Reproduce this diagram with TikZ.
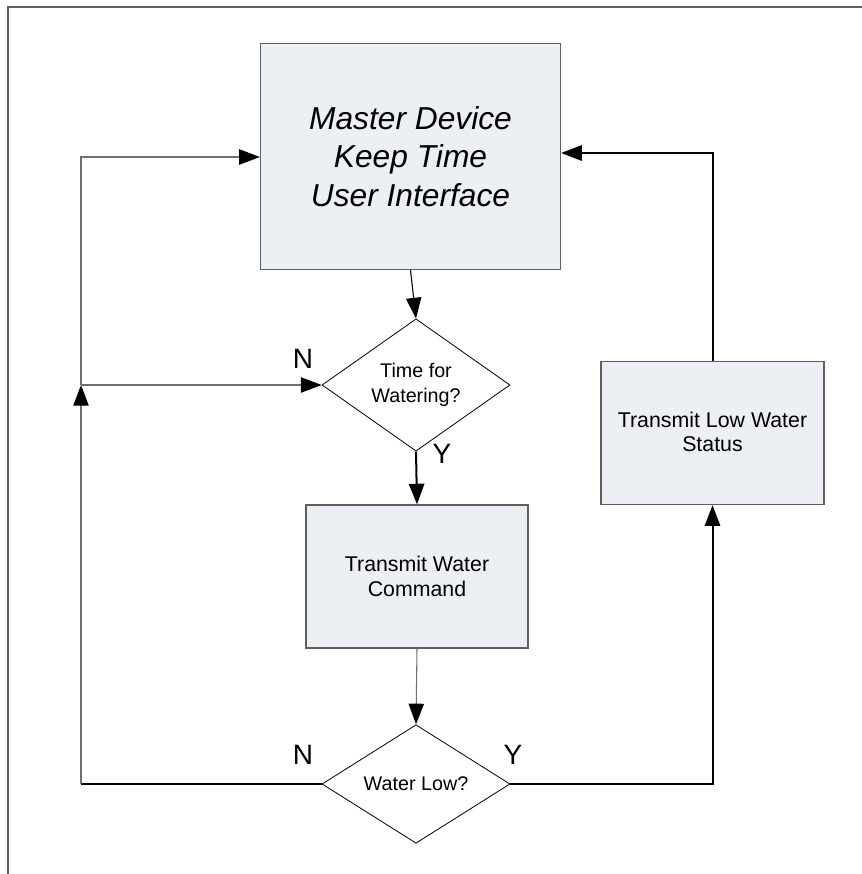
\documentclass[tikz,border=0pt]{standalone}
\usepackage{fontspec}
\setmainfont{Liberation Sans}
\usetikzlibrary{arrows.meta,shapes.geometric}
\definecolor{boxfill}{HTML}{ECEFF4}
\definecolor{boxline}{HTML}{606060}
\definecolor{wire}{HTML}{707070}
\tikzset{
  procbox/.style={draw=boxline, line width=0.9pt, fill=boxfill, rectangle,
    inner sep=0pt, align=center},
  decision/.style={draw=black, line width=0.6pt, diamond, inner sep=0pt,
    minimum width=141pt, minimum height=84.75pt, align=center,
    font=\fontsize{14.8}{18.5}\selectfont},
  flow/.style={line width=0.8pt,
    -{Triangle[length=15.5pt,width=11.5pt,color=black]}},
  flowthick/.style={line width=1.5pt,
    -{Triangle[length=15.5pt,width=11.5pt,color=black]}},
  plainline/.style={line width=0.8pt},
  yn/.style={font=\fontsize{21}{21}\selectfont, inner sep=0pt},
}
\begin{document}
\begin{tikzpicture}[x=0.75pt, y=-0.75pt]
  \useasboundingbox (0,0) rectangle (862,874);
  % outer frame: top and left edges only
  \draw[line width=1.1pt, draw=wire!85!black] (8,874) -- (8,7) -- (862,7);

  % process boxes
  \node[procbox, minimum width=225pt, minimum height=169.5pt,
        font=\fontsize{23.8}{29}\selectfont\itshape] (master)
        at (410.5,156.5) {Master Device\\Keep Time\\User Interface};
  \node[procbox, minimum width=166.5pt, minimum height=107.25pt,
        font=\fontsize{16}{18.75}\selectfont] (twc)
        at (417,576.5) {Transmit Water\\Command};
  \node[procbox, minimum width=167.25pt, minimum height=107.25pt,
        anchor=north] (tlw) at (712.5,361) {};
  \node[font=\fontsize{16}{18}\selectfont, align=center]
        (tlwtext) at (712.5,431.5) {Transmit Low Water\\Status};

  % decisions
  \node[decision] (d1) at (416,385) {Time for\\Watering?};
  \node[decision] (d2) at (416,784) {Water Low?};

  % branch labels
  \node[yn] (n1) at (303,359) {N};
  \node[yn] (y1) at (442,454) {Y};
  \node[yn] (n2) at (303,755) {N};
  \node[yn] (y2) at (513,755) {Y};

  % junction points of the loops
  \coordinate (jl) at (81,385);
  \coordinate (bl) at (81,784);
  \coordinate (tl) at (81,157);
  \coordinate (br) at (712.5,784);
  \coordinate (tr) at (712.5,153);

  % main flow
  \draw[flow, draw=black] (master.south) -- (d1.north);
  \draw[flowthick] (d1.south) -- (twc.north);
  \draw[flow, draw=wire] (twc.south) -- (d2.north);

  % "No" loop on the left
  \draw[plainline, line width=1.5pt] (d2.west) -- (bl);
  \draw[flow, draw=wire] (bl) -- (jl);
  \draw[flow, draw=wire] (jl) -- (d1.west);
  \draw[flow, draw=wire] (jl) -- (tl) -- (master.west |- tl);

  % "Yes" path on the right
  \draw[flowthick] (d2.east) -- (br) -- (tlw.south);
  \draw[flowthick] (tlw.north) -- (tr) -- (master.east |- tr);
\end{tikzpicture}
\end{document}
